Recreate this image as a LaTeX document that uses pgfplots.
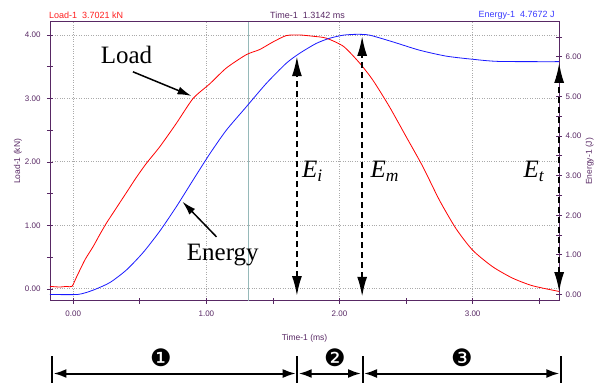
\documentclass[border=0pt]{standalone}
\usepackage{fontspec}
\setmainfont{Liberation Serif}
\setsansfont{Liberation Sans}
\newfontfamily\dejavu{DejaVu Sans}
\usepackage{pgfplots}
\pgfplotsset{compat=1.18}
\usetikzlibrary{arrows.meta}

\definecolor{axpurple}{RGB}{88,40,100}
\definecolor{loadred}{RGB}{255,0,0}
\definecolor{enblue}{RGB}{25,25,255}
\definecolor{cursor}{RGB}{150,185,185}
\definecolor{gridgray}{RGB}{170,170,170}

\pgfplotstableread{
t L
-0.175 0.04
-0.10 0.03
-0.05 0.04
-0.01 0.04
0.025 0.19
0.088 0.46
0.15 0.67
0.20 0.86
0.25 1.04
0.30 1.20
0.35 1.36
0.40 1.52
0.475 1.76
0.55 1.98
0.65 2.24
0.775 2.61
0.90 3.00
1.025 3.23
1.15 3.48
1.30 3.69
1.40 3.77
1.50 3.89
1.60 3.99
1.70 4.00
1.80 3.98
1.90 3.95
2.03 3.82
2.15 3.56
2.25 3.29
2.375 2.87
2.50 2.40
2.625 1.93
2.75 1.40
2.875 0.95
3.00 0.61
3.15 0.35
3.30 0.17
3.45 0.05
3.65 -0.04
}\loaddata

\pgfplotstableread{
t E
-0.175 0.00
0.035 0.00
0.15 0.11
0.275 0.30
0.40 0.62
0.525 1.06
0.65 1.60
0.775 2.22
0.90 2.89
1.025 3.55
1.15 4.15
1.30 4.74
1.45 5.33
1.60 5.84
1.70 6.09
1.825 6.34
1.925 6.47
2.03 6.55
2.13 6.57
2.225 6.55
2.40 6.38
2.60 6.17
2.80 6.02
3.00 5.94
3.20 5.885
3.65 5.88
}\energydata

\tikzset{
  dashed arrow/.style={line width=2pt, dash pattern=on 6pt off 4pt,
    {Latex[length=20pt,width=10pt]}-{Latex[length=20pt,width=10pt]}},
}
\pgfplotsset{
  common/.style={
    at={(50pt,82pt)}, anchor=south west, scale only axis,
    width=509.3pt, height=279.3pt,
    xmin=-0.175, xmax=3.65,
    axis line style={axpurple, line width=0.9pt},
    tick align=center, major tick length=6pt, minor tick length=6pt,
    tick style={axpurple, line width=0.8pt},
    /pgf/number format/fixed, /pgf/number format/fixed zerofill,
    /pgf/number format/precision=2, /pgf/number format/assume math mode=true,
    tick label style={font=\sffamily\fontsize{8}{9}\selectfont, text=axpurple},
    label style={font=\sffamily\fontsize{8.5}{10}\selectfont, text=axpurple},
    clip=false,
  },
}

\begin{document}
\begin{tikzpicture}[x=1pt,y=1pt]
\path (0,0) rectangle (597,383);

\begin{axis}[common,
  ymin=-0.189, ymax=4.209,
  xtick={0,1,2,3}, minor xtick={0.5,1.5,2.5,3.5},
  ytick={0,1,2,3,4}, minor ytick={0.5,1.5,2.5,3.5},
  xtick pos=bottom, ytick pos=left,
  grid=major, grid style={gridgray, dotted, line width=0.9pt},
  xticklabel style={anchor=center, yshift=-10pt},
  yticklabel style={xshift=-3pt},
  xlabel={Time-1 (ms)}, ylabel={Load-1 (kN)},
  xlabel style={at={(axis description cs:0.5,-0.135)}, anchor=center},
  ylabel style={at={(axis description cs:-0.0628,0.5)}, anchor=center},
]
\draw[cursor, line width=1.2pt] (axis cs:1.3142,-0.189) -- (axis cs:1.3142,4.209);
\addplot[loadred, line width=0.8pt, smooth, tension=0.4] table[x=t, y=L] {\loaddata};
\node[font=\fontsize{25}{28}\selectfont] at (axis cs:0.40,3.69) {Load};
\draw[line width=1.5pt, -{Latex[length=14pt,width=8pt]}] (axis cs:0.448,3.42) -- (axis cs:0.888,3.04);
\node[font=\fontsize{25}{28}\selectfont] at (axis cs:1.123,0.535) {Energy};
\draw[line width=1.5pt, -{Latex[length=14pt,width=8pt]}] (axis cs:1.076,0.82) -- (axis cs:0.82,1.375);
\node[font=\fontsize{25}{28}\selectfont] at (axis cs:1.797,1.85) {\textit{E\textsubscript{i}}};
\node[font=\fontsize{25}{28}\selectfont] at (axis cs:2.34,1.85) {\textit{E\textsubscript{m}}};
\node[font=\fontsize{25}{28}\selectfont] at (axis cs:3.46,1.85) {\textit{E\textsubscript{t}}};
\end{axis}

\begin{axis}[common,
  ymin=-0.164, ymax=6.889,
  axis x line=none, axis y line*=right,
  ytick={0,1,2,3,4,5,6}, minor ytick={0.5,1.5,2.5,3.5,4.5,5.5,6.5},
  ylabel={Energy-1 (J)},
  ylabel style={at={(axis description cs:1.060,0.5)}, anchor=center, rotate=0},
]
\addplot[enblue, line width=0.8pt, smooth, tension=0.4] table[x=t, y=E] {\energydata};
\draw[dashed arrow] (axis cs:1.68,-0.04) -- (axis cs:1.68,6.02);
\draw[dashed arrow] (axis cs:2.17,-0.06) -- (axis cs:2.17,6.53);
\draw[dashed arrow] (axis cs:3.65,0.06) -- (axis cs:3.65,5.85);
\end{axis}

% top readouts
\node[anchor=west, inner sep=0, font=\sffamily\fontsize{9}{10}\selectfont, text={rgb,255:red,255;green,30;blue,30}] at (49pt,368pt) {Load-1\ \ 3.7021 kN};
\node[anchor=west, inner sep=0, font=\sffamily\fontsize{9}{10}\selectfont, text=axpurple] at (270pt,368pt) {Time-1\ \ 1.3142 ms};
\node[anchor=east, inner sep=0, font=\sffamily\fontsize{9}{10}\selectfont, text={rgb,255:red,60;green,60;blue,255}] at (555pt,368pt) {Energy-1\ \ 4.7672 J};

% bottom phase spans
\foreach \xx in {52,297.3,362.6,561} {
  \draw[line width=2pt] (\xx pt,0pt) -- (\xx pt,27pt);
}
\draw[line width=2pt, {Latex[length=13pt,width=9pt]}-{Latex[length=13pt,width=9pt]}] (53.5pt,9.4pt) -- (295.8pt,9.4pt);
\draw[line width=2pt, {Latex[length=13pt,width=9pt]}-{Latex[length=13pt,width=9pt]}] (298.8pt,9.4pt) -- (361.1pt,9.4pt);
\draw[line width=2pt, {Latex[length=13pt,width=9pt]}-{Latex[length=13pt,width=9pt]}] (364.1pt,9.4pt) -- (559.5pt,9.4pt);
\node[font=\dejavu\fontsize{24}{26}\selectfont] at (161pt,25.4pt) {❶};
\node[font=\dejavu\fontsize{24}{26}\selectfont] at (335pt,25.4pt) {❷};
\node[font=\dejavu\fontsize{24}{26}\selectfont] at (462pt,25.4pt) {❸};
\end{tikzpicture}
\end{document}
